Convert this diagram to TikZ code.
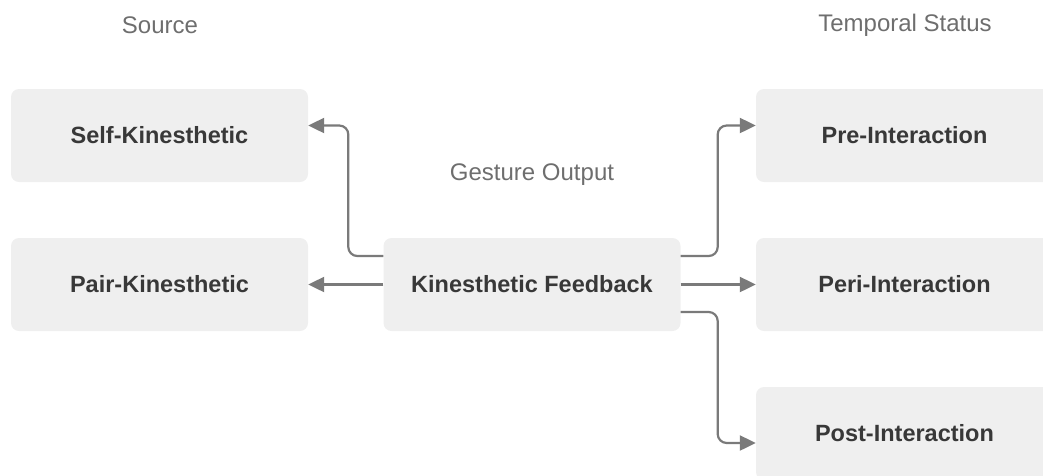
\documentclass[tikz,border=0pt]{standalone}
\usepackage{fontspec}
\setmainfont{Liberation Sans}
\usetikzlibrary{arrows.meta}
\definecolor{boxfill}{HTML}{EFEFEF}
\definecolor{boxtext}{HTML}{383838}
\definecolor{labeltext}{HTML}{6E6E6E}
\definecolor{linkgray}{HTML}{7A7A7A}
\begin{document}
\begin{tikzpicture}[x=1pt,y=-1pt,
  card/.style={rectangle, rounded corners=8pt, fill=boxfill, draw=none,
    minimum width=297pt, minimum height=93pt, inner sep=0pt,
    text=boxtext, font=\bfseries\fontsize{23.5}{28}\selectfont},
  caption/.style={text=labeltext, inner sep=0pt, font=\fontsize{24}{28}\selectfont},
  link/.style={draw=linkgray, line width=2.2pt, rounded corners=9pt,
    -{Triangle[length=16pt,width=15pt]}}]
\useasboundingbox (0,0) rectangle (1043,475);
\clip (0,0) rectangle (1043,475);

% column headings and centre caption
\node[caption] (hsrc) at (160,25) {Source};
\node[caption] (htmp) at (905,25) {Temporal Status};
\node[caption] (hout) at (532,175) {Gesture Output};

% boxes
\node[card] (self) at (159.5,135.5) {Self-Kinesthetic};
\node[card] (pair) at (159.5,284.5) {Pair-Kinesthetic};
\node[card] (kf)   at (532,284.5)   {Kinesthetic Feedback};
\node[card] (pre)  at (904.5,135.5) {Pre-Interaction};
\node[card] (peri) at (904.5,284.5) {Peri-Interaction};
\node[card] (post) at (904.5,433.5) {Post-Interaction};

% connectors
\draw[link] ([yshift=28.5pt]kf.west) -- ++(-35,0) |- ([yshift=10pt]self.east);
\draw[link] (kf.west) -- (pair.east);
\draw[link] ([yshift=28.5pt]kf.east) -- ++(37,0) |- ([yshift=10pt]pre.west);
\draw[link] (kf.east) -- (peri.west);
\draw[link] ([yshift=-27.5pt]kf.east) -- ++(37,0) |- ([yshift=-9.5pt]post.west);
\end{tikzpicture}
\end{document}
